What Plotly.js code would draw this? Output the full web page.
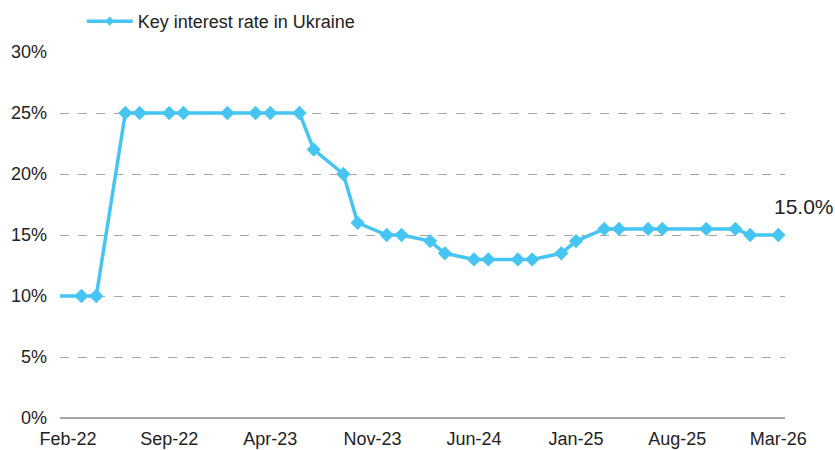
<!DOCTYPE html>
<html>
<head>
<meta charset="utf-8">
<script src="https://cdn.plot.ly/plotly-3.0.1.min.js"></script>
<style>html,body{margin:0;padding:0;background:#fff;}#chart{width:835px;height:450px;}</style>
</head>
<body>
<div id="chart"></div>
<script>
// Data (month positions of NBU key rate decisions)
const dates = ['2022-01-15','2022-03-15','2022-04-15','2022-06-15','2022-07-15','2022-09-15','2022-10-15',
  '2023-01-15','2023-03-15','2023-04-15','2023-06-15','2023-07-15','2023-09-15','2023-10-15','2023-12-15',
  '2024-01-15','2024-03-15','2024-04-15','2024-06-15','2024-07-15','2024-09-15','2024-10-15','2024-12-15',
  '2025-01-15','2025-03-15','2025-04-15','2025-06-15','2025-07-15','2025-10-15','2025-12-15',
  '2026-01-15','2026-03-15'];
const rates = [10,10,10,25,25,25,25,
  25,25,25,25,22,20,16,15,
  15,14.5,13.5,13,13,13,13,13.5,
  14.5,15.5,15.5,15.5,15.5,15.5,15.5,
  15,15];
const seriesName = 'Key interest rate in Ukraine';
const tickDates = ['2022-02-15','2022-09-15','2023-04-15','2023-11-15','2024-06-15','2025-01-15','2025-08-15','2026-03-15'];
const tickLabels = ['Feb-22','Sep-22','Apr-23','Nov-23','Jun-24','Jan-25','Aug-25','Mar-26'];
const yTicks = [0,5,10,15,20,25,30];

const font = 'Liberation Sans, Arial, sans-serif';
const lineColor = '#47C5F2';
const lastIdx = rates.length - 1;

const trace = {
  type: 'scatter', mode: 'lines+markers', name: seriesName, showlegend: false,
  x: dates, y: rates,
  line: {color: lineColor, width: 3.5},
  marker: {symbol: 'diamond', size: 11, color: lineColor}
};
// legend entry (smaller marker, as in the original legend)
const legendTrace = {
  type: 'scatter', mode: 'lines+markers', name: seriesName, showlegend: true,
  x: [null], y: [null],
  line: {color: lineColor, width: 3.5},
  marker: {symbol: 'diamond', size: 7, color: lineColor}
};

const layout = {
  width: 835, height: 450,
  margin: {l: 60, r: 50, t: 52, b: 32, autoexpand: false},
  paper_bgcolor: '#fff', plot_bgcolor: '#fff',
  font: {family: font, size: 18, color: '#222'},
  showlegend: true,
  legend: {orientation: 'h', x: 0.03, y: 1.134, xanchor: 'left', yanchor: 'top',
    font: {family: font, size: 18, color: '#222'}, itemwidth: 46, bgcolor: 'rgba(0,0,0,0)'},
  xaxis: {type: 'date', range: ['2022-01-29','2026-03-29'],
    tickmode: 'array', tickvals: tickDates, ticktext: tickLabels,
    showgrid: false, showline: false, zeroline: false, ticks: '',
    ticklabelstandoff: 8, tickfont: {family: font, size: 18, color: '#222'}, fixedrange: true},
  yaxis: {range: [0, 30], tickmode: 'array', tickvals: yTicks, ticktext: yTicks.map(v => v + '%'),
    showgrid: true, gridcolor: '#A6A6A6', gridwidth: 1, griddash: 'dash',
    zeroline: true, zerolinecolor: '#A6A6A6', zerolinewidth: 1.5,
    showline: false, ticks: '', ticklabelstandoff: 12,
    tickfont: {family: font, size: 18, color: '#222'}, fixedrange: true},
  annotations: [{
    x: dates[lastIdx], y: rates[lastIdx], xref: 'x', yref: 'y',
    text: rates[lastIdx].toFixed(1) + '%', showarrow: false,
    xanchor: 'left', yanchor: 'middle', xshift: -6, yshift: 29,
    font: {family: font, size: 21, color: '#222'}
  }]
};

Plotly.newPlot('chart', [trace, legendTrace], layout, {displayModeBar: false, staticPlot: true});
</script>
</body>
</html>
